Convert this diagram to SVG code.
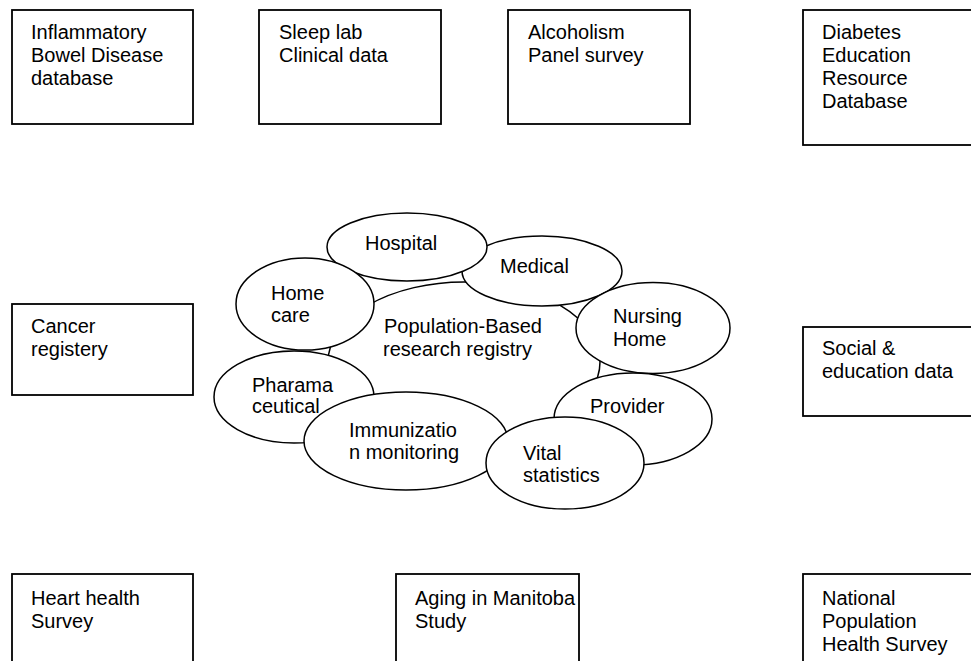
<svg xmlns="http://www.w3.org/2000/svg" width="971" height="661" viewBox="0 0 971 661">
<style>
.box{fill:#fff;stroke:#000;stroke-width:1.8}
.ell{fill:#fff;stroke:#000;stroke-width:1.5}
text{font-family:"Liberation Sans",Arial,sans-serif;font-size:20px;fill:#000}
</style>
<rect width="971" height="661" fill="#fff"/>
<g id="connectors"/>
<g id="ibd"><rect class="box" x="12" y="10" width="181" height="114"/>
<text x="31" y="39">Inflammatory</text><text x="31" y="62">Bowel Disease</text><text x="31" y="85">database</text></g>
<g id="sleeplab"><rect class="box" x="259" y="10" width="182" height="114"/>
<text x="279" y="39">Sleep lab</text><text x="279" y="62">Clinical data</text></g>
<g id="alcoholism"><rect class="box" x="508" y="10" width="182" height="114"/>
<text x="528" y="39">Alcoholism</text><text x="528" y="62">Panel survey</text></g>
<g id="diabetes"><rect class="box" x="803" y="10" width="190" height="135"/>
<text x="822" y="39">Diabetes</text><text x="822" y="62">Education</text><text x="822" y="85">Resource</text><text x="822" y="108">Database</text></g>
<g id="cancer"><rect class="box" x="12" y="304" width="181" height="91"/>
<text x="31" y="333">Cancer</text><text x="31" y="356">registery</text></g>
<g id="social"><rect class="box" x="803" y="327" width="190" height="89"/>
<text x="822" y="355">Social &amp;</text><text x="822" y="378">education data</text></g>
<g id="heart"><rect class="box" x="12" y="574" width="181" height="110"/>
<text x="31" y="605">Heart health</text><text x="31" y="628">Survey</text></g>
<g id="aging"><rect class="box" x="396" y="574" width="183" height="110"/>
<text x="415" y="605">Aging in Manitoba</text><text x="415" y="628">Study</text></g>
<g id="national"><rect class="box" x="803" y="574" width="190" height="110"/>
<text x="822" y="605">National</text><text x="822" y="628">Population</text><text x="822" y="651">Health Survey</text></g>
<g id="registry"><ellipse class="ell" cx="464" cy="362" rx="136" ry="80"/>
<text x="384" y="333">Population-Based</text><text x="383" y="356">research registry</text></g>
<g id="medical"><ellipse class="ell" cx="542" cy="271" rx="80" ry="35"/>
<text x="500" y="273">Medical</text></g>
<g id="hospital"><ellipse class="ell" cx="407" cy="247" rx="80" ry="34"/>
<text x="365" y="250">Hospital</text></g>
<g id="homecare"><ellipse class="ell" cx="305" cy="304" rx="69" ry="46"/>
<text x="271" y="300">Home</text><text x="271" y="322">care</text></g>
<g id="nursing"><ellipse class="ell" cx="653" cy="328" rx="77" ry="45.5"/>
<text x="613" y="323">Nursing</text><text x="613" y="346">Home</text></g>
<g id="pharma"><ellipse class="ell" cx="294" cy="397" rx="80" ry="46"/>
<text x="252" y="392">Pharama</text><text x="252" y="413">ceutical</text></g>
<g id="immunization"><ellipse class="ell" cx="406" cy="441" rx="102" ry="49"/>
<text x="349" y="437">Immunizatio</text><text x="349" y="459">n monitoring</text></g>
<g id="provider"><ellipse class="ell" cx="633" cy="419" rx="79" ry="46"/>
<text x="590" y="413">Provider</text></g>
<g id="vital"><ellipse class="ell" cx="565" cy="463" rx="79" ry="46"/>
<text x="523" y="460">Vital</text><text x="523" y="482">statistics</text></g>
</svg>
